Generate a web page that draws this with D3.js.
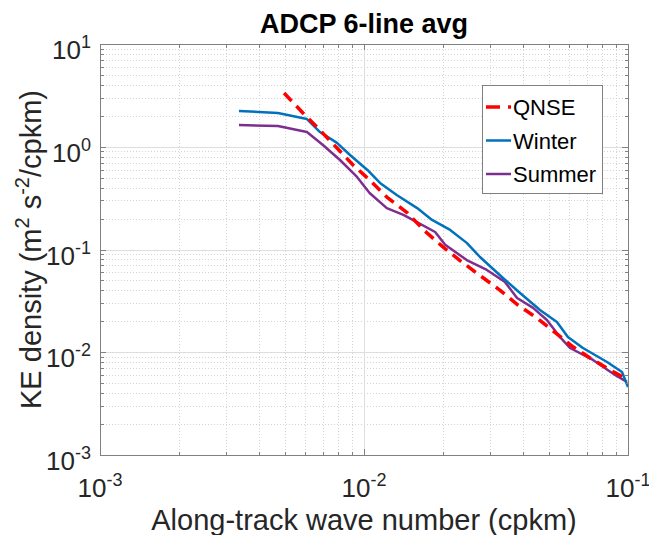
<!DOCTYPE html>
<html>
<head>
<meta charset="utf-8">
<script src="https://cdn.jsdelivr.net/npm/d3@7"></script>
<style>
  body { margin: 0; background: #fff; }
  svg { display: block; font-family: "Liberation Sans", Arial, Helvetica, sans-serif; }
</style>
</head>
<body>
<svg id="chart" width="649" height="535"></svg>
<script>
// Wave numbers (cpkm) and KE density (m^2 s^-2 / cpkm)
var qnseK = [0.00498, 0.00587, 0.00669, 0.0079, 0.00909, 0.0105, 0.0122, 0.0146, 0.017, 0.0199,
             0.0235, 0.028, 0.0327, 0.0383, 0.0452, 0.0619, 0.0718, 0.0855, 0.0974];
var qnseE = [3.34, 2.13, 1.52, 0.972, 0.664, 0.475, 0.324, 0.227, 0.151, 0.106,
             0.0755, 0.054, 0.0403, 0.0288, 0.0215, 0.0113, 0.00879, 0.00672, 0.00562];

var winterK = [0.00336, 0.00472, 0.00608, 0.00681, 0.0079, 0.00885, 0.0103, 0.0115, 0.0133, 0.0159,
               0.0181, 0.0212, 0.0245, 0.0275, 0.0336, 0.039, 0.0464, 0.0538, 0.0592, 0.0675,
               0.0833, 0.0949, 0.1];
var winterE = [2.23, 2.13, 1.86, 1.39, 1.09, 0.831, 0.594, 0.444, 0.339, 0.253,
               0.194, 0.155, 0.116, 0.0845, 0.0528, 0.0377, 0.0258, 0.0197, 0.0141, 0.011,
               0.00804, 0.00642, 0.00459];

var summerK = [0.00336, 0.00472, 0.00608, 0.00699, 0.00811, 0.00941, 0.0105, 0.0122, 0.0141, 0.0153,
               0.0186, 0.0203, 0.0245, 0.0292, 0.0342, 0.038, 0.0437, 0.0493, 0.0552, 0.0603,
               0.0737, 0.0893, 0.0991];
var summerE = [1.63, 1.59, 1.39, 1.04, 0.743, 0.508, 0.355, 0.253, 0.217, 0.194,
               0.148, 0.111, 0.079, 0.0632, 0.0483, 0.0337, 0.027, 0.0206, 0.0141, 0.011,
               0.00841, 0.00601, 0.00514];

var seriesNames = ['QNSE', 'Winter', 'Summer'];
var xExponents = [-3, -2, -1];
var yExponents = [-3, -2, -1, 0, 1];

var svg = d3.select('#chart');

// plot box (don't use "top" at global scope, it's window.top)
var pLeft = 100, pRight = 628, pTop = 44, pBottom = 455;
var axisColor = '#808080', textColor = '#262626';

var x = d3.scaleLog().domain([1e-3, 1e-1]).range([pLeft, pRight]);
var y = d3.scaleLog().domain([1e-3, 1e1]).range([pBottom, pTop]);

function isMajor(v) {
	var l = Math.log10(v);
	return Math.abs(l - Math.round(l)) < 1e-9;
}

var xTicks = x.ticks(), yTicks = y.ticks();

// Grid
var grid = svg.append('g').attr('shape-rendering', 'crispEdges');
grid.selectAll('.xminor').data(xTicks.filter(function(d) { return !isMajor(d); }))
	.enter().append('line')
	.attr('x1', function(d) { return Math.round(x(d)) + 0.5; })
	.attr('x2', function(d) { return Math.round(x(d)) + 0.5; })
	.attr('y1', pTop).attr('y2', pBottom)
	.style('stroke', '#d4d4d4').style('stroke-dasharray', '1,2');
grid.selectAll('.yminor').data(yTicks.filter(function(d) { return !isMajor(d); }))
	.enter().append('line')
	.attr('y1', function(d) { return Math.round(y(d)) + 0.5; })
	.attr('y2', function(d) { return Math.round(y(d)) + 0.5; })
	.attr('x1', pLeft).attr('x2', pRight)
	.style('stroke', '#d4d4d4').style('stroke-dasharray', '1,2');
grid.selectAll('.xmajor').data(xExponents.slice(1, -1))
	.enter().append('line')
	.attr('x1', function(e) { return Math.round(x(Math.pow(10, e))) + 0.5; })
	.attr('x2', function(e) { return Math.round(x(Math.pow(10, e))) + 0.5; })
	.attr('y1', pTop).attr('y2', pBottom)
	.style('stroke', '#dedede');
grid.selectAll('.ymajor').data(yExponents.slice(1, -1))
	.enter().append('line')
	.attr('y1', function(e) { return Math.round(y(Math.pow(10, e))) + 0.5; })
	.attr('y2', function(e) { return Math.round(y(Math.pow(10, e))) + 0.5; })
	.attr('x1', pLeft).attr('x2', pRight)
	.style('stroke', '#dedede');

// Lines
var line = d3.line()
	.x(function(d) { return x(d[0]); })
	.y(function(d) { return y(d[1]); });

function pairs(k, e) { return k.map(function(v, i) { return [v, e[i]]; }); }

var series = [
	{ name: seriesNames[0], data: pairs(qnseK, qnseE), color: '#ff0000', width: 3.5, dash: '11,7' },
	{ name: seriesNames[1], data: pairs(winterK, winterE), color: '#0072bd', width: 2.5, dash: null },
	{ name: seriesNames[2], data: pairs(summerK, summerE), color: '#7e2f8e', width: 2.5, dash: null }
];

var plot = svg.append('g');
// summer and winter go under the dashed QNSE line
[series[2], series[1], series[0]].forEach(function(s) {
	plot.append('path')
		.datum(s.data)
		.attr('d', line)
		.style('fill', 'none')
		.style('stroke', s.color)
		.style('stroke-width', s.width)
		.style('stroke-dasharray', s.dash)
		.style('stroke-linejoin', 'round');
});

// Box and ticks
var box = svg.append('g').attr('shape-rendering', 'crispEdges');
box.append('rect')
	.attr('x', pLeft + 0.5).attr('y', pTop + 0.5)
	.attr('width', pRight - pLeft).attr('height', pBottom - pTop)
	.style('fill', 'none').style('stroke', axisColor);

xTicks.forEach(function(d) {
	var len = isMajor(d) ? 6 : 3.5, px = Math.round(x(d)) + 0.5;
	box.append('line').attr('x1', px).attr('x2', px).attr('y1', pBottom).attr('y2', pBottom - len).style('stroke', axisColor);
	box.append('line').attr('x1', px).attr('x2', px).attr('y1', pTop).attr('y2', pTop + len).style('stroke', axisColor);
});
yTicks.forEach(function(d) {
	var len = isMajor(d) ? 6 : 3.5, py = Math.round(y(d)) + 0.5;
	box.append('line').attr('y1', py).attr('y2', py).attr('x1', pLeft).attr('x2', pLeft + len).style('stroke', axisColor);
	box.append('line').attr('y1', py).attr('y2', py).attr('x1', pRight).attr('x2', pRight - len).style('stroke', axisColor);
});

// Tick labels, 10^n
function powerLabel(sel, e) {
	sel.append('tspan').text('10');
	sel.append('tspan').attr('dy', -11).style('font-size', '18px').text(e);
}

svg.selectAll('.xlabel').data(xExponents).enter().append('text')
	.attr('x', function(e) { return x(Math.pow(10, e)); })
	.attr('y', 497)
	.attr('text-anchor', 'middle')
	.style('font-size', '26px')
	.style('fill', textColor)
	.each(function(e) { powerLabel(d3.select(this), e); });

svg.selectAll('.ylabel').data(yExponents).enter().append('text')
	.attr('x', 91)
	.attr('y', function(e) { return y(Math.pow(10, e)) + 15; })
	.attr('text-anchor', 'end')
	.style('font-size', '26px')
	.style('fill', textColor)
	.each(function(e) { powerLabel(d3.select(this), e); });

// Title
svg.append('text')
	.attr('x', (pLeft + pRight) / 2).attr('y', 33)
	.attr('text-anchor', 'middle')
	.style('font-size', '27px').style('font-weight', 'bold')
	.style('fill', '#000')
	.text('ADCP 6-line avg');

// Axis labels
svg.append('text')
	.attr('x', (pLeft + pRight) / 2).attr('y', 530)
	.attr('text-anchor', 'middle')
	.style('font-size', '29px')
	.style('fill', textColor)
	.text('Along-track wave number (cpkm)');

var yl = svg.append('text')
	.attr('transform', 'translate(41,' + ((pTop + pBottom) / 2) + ') rotate(-90)')
	.attr('text-anchor', 'middle')
	.style('font-size', '29px')
	.style('fill', textColor);
yl.append('tspan').text('KE density (m');
yl.append('tspan').attr('dy', -12).style('font-size', '20px').text('2');
yl.append('tspan').attr('dy', 12).text(' s');
yl.append('tspan').attr('dy', -12).style('font-size', '20px').text('-2');
yl.append('tspan').attr('dy', 12).text('/cpkm)');

// Legend
var legend = svg.append('g');
legend.append('rect')
	.attr('x', 482.5).attr('y', 85.5).attr('width', 120).attr('height', 108)
	.attr('shape-rendering', 'crispEdges')
	.style('fill', '#fff').style('stroke', axisColor);

var rows = legend.selectAll('.row').data(series).enter().append('g')
	.attr('transform', function(d, i) { return 'translate(0,' + (107 + i * 33.5) + ')'; });
rows.append('line')
	.attr('x1', 486).attr('x2', 511).attr('y1', 0).attr('y2', 0)
	.style('stroke', function(d) { return d.color; })
	.style('stroke-width', function(d) { return d.width; })
	.style('stroke-dasharray', function(d) { return d.dash ? '14,8' : null; });
rows.append('text')
	.attr('x', 513).attr('y', 8)
	.style('font-size', '22px')
	.style('fill', '#000')
	.text(function(d) { return d.name; });
</script>
</body>
</html>
